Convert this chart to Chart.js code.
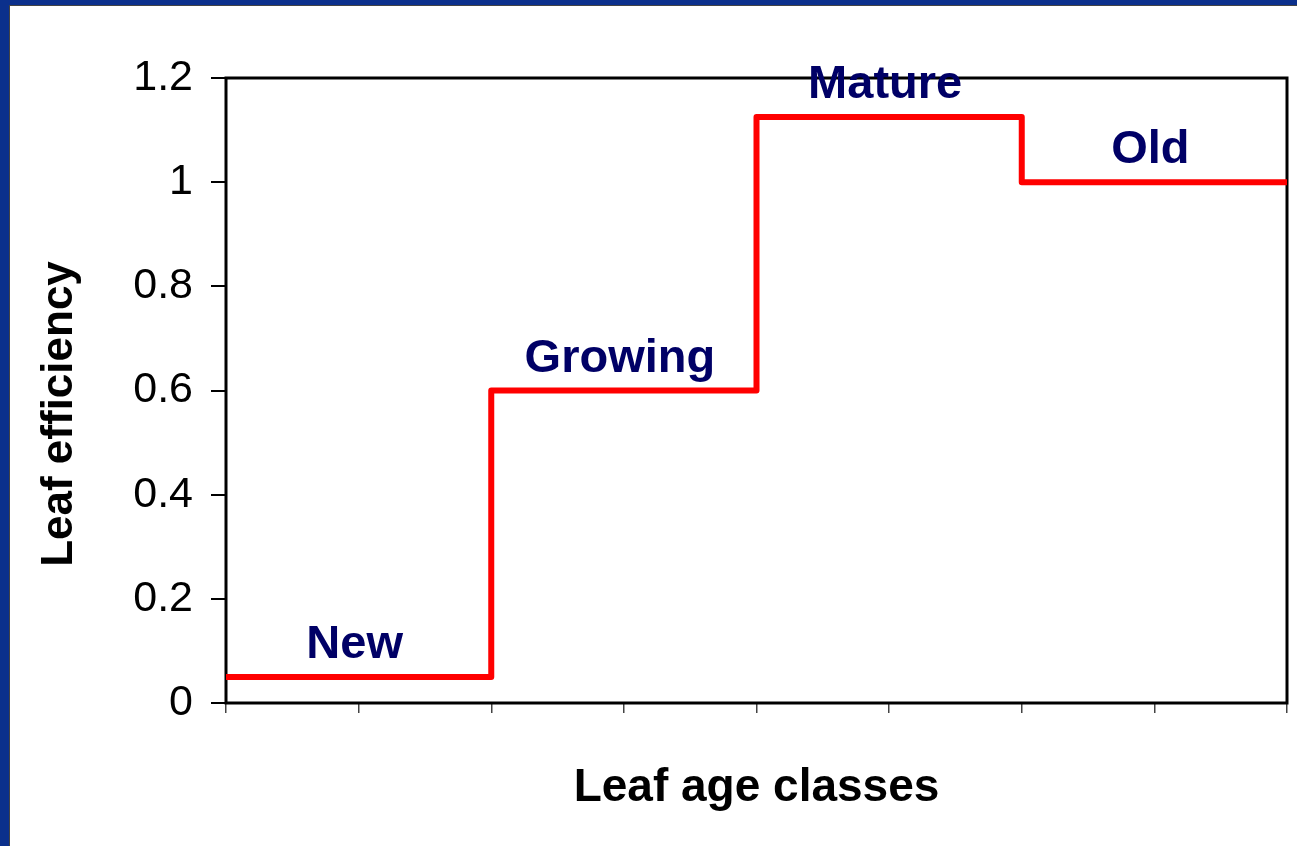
<!DOCTYPE html>
<html>
<head>
<meta charset="utf-8">
<script src="https://cdn.jsdelivr.net/npm/chart.js@4"></script>
<style>
  html, body { margin: 0; padding: 0; }
  body { width: 1297px; height: 846px; background: #0b308c; position: relative; overflow: hidden; }
  #frame { position: absolute; left: 9px; top: 5px; width: 1288px; height: 841px; background: #fff;
           border-top: 1px solid #444; border-left: 1px solid #444; box-sizing: border-box; }
  #frame canvas { display: block; }
</style>
</head>
<body>
<div id="frame"><canvas id="leafChart" width="1287" height="840"></canvas></div>
<script>
// leaf age classes and the efficiency of each one
const classes = ['New', 'Growing', 'Mature', 'Old'];
const efficiency = [0.05, 0.6, 1.125, 1.0];
const yTickLabels = ['0', '0.2', '0.4', '0.6', '0.8', '1', '1.2'];

// each class spans two x units; step changes at the start of each class
const stepPoints = [{ x: 0, y: efficiency[0] }];
efficiency.forEach((v, i) => stepPoints.push({ x: 2 * (i + 1), y: i + 1 < efficiency.length ? efficiency[i + 1] : v }));

const FONT = '"Liberation Sans", Arial, sans-serif';

const boxAndLabels = {
  id: 'boxAndLabels',
  beforeDatasetsDraw(chart) {
    const { ctx, chartArea: a } = chart;
    ctx.save();
    ctx.strokeStyle = '#000';
    ctx.lineWidth = 3;
    ctx.strokeRect(a.left, a.top, a.right - a.left, a.bottom - a.top);
    ctx.restore();
  },
  afterDraw(chart) {
    const { ctx, scales: { x, y } } = chart;
    ctx.save();
    ctx.fillStyle = '#000066';
    ctx.font = 'bold 47px ' + FONT;
    ctx.textAlign = 'center';
    ctx.textBaseline = 'alphabetic';
    classes.forEach((name, i) => {
      const cx = (x.getPixelForValue(2 * i) + x.getPixelForValue(2 * i + 2)) / 2;
      ctx.fillText(name, cx - 4, y.getPixelForValue(efficiency[i]) - 19);
    });
    // y axis title
    ctx.fillStyle = '#000';
    ctx.font = 'bold 44px ' + FONT;
    ctx.textBaseline = 'middle';
    ctx.translate(50, 408);
    ctx.rotate(-Math.PI / 2);
    ctx.fillText('Leaf efficiency', 0, 0);
    ctx.restore();
  }
};

new Chart(document.getElementById('leafChart'), {
  type: 'line',
  data: {
    datasets: [{
      data: stepPoints,
      stepped: 'before',
      borderColor: '#ff0000',
      borderWidth: 6,
      borderJoinStyle: 'round',
      pointRadius: 0,
      fill: false
    }]
  },
  plugins: [boxAndLabels],
  options: {
    responsive: false,
    animation: false,
    layout: { padding: { top: 72, right: 10, left: 0, bottom: 0 } },
    plugins: { legend: { display: false }, tooltip: { enabled: false } },
    scales: {
      x: {
        type: 'linear',
        min: 0,
        max: 8,
        ticks: { stepSize: 1, display: false },
        grid: { drawOnChartArea: false, drawTicks: true, tickLength: 10, color: '#444', lineWidth: 1.5 },
        border: { display: false },
        title: {
          display: true,
          text: 'Leaf age classes',
          color: '#000',
          font: { family: FONT, size: 46, weight: 'bold' },
          padding: { top: 0, bottom: 30 }
        },
        afterFit(s) { s.height = 143; }
      },
      y: {
        min: 0,
        max: 1.2,
        ticks: {
          stepSize: 0.2,
          color: '#000',
          padding: 18,
          font: { family: FONT, size: 43 },
          callback: v => yTickLabels[Math.round(v / 0.2)]
        },
        grid: { drawOnChartArea: false, drawTicks: true, tickLength: 15, color: '#000', lineWidth: 2 },
        border: { display: false },
        afterFit(s) { s.width = 216; }
      }
    }
  }
});
</script>
</body>
</html>
